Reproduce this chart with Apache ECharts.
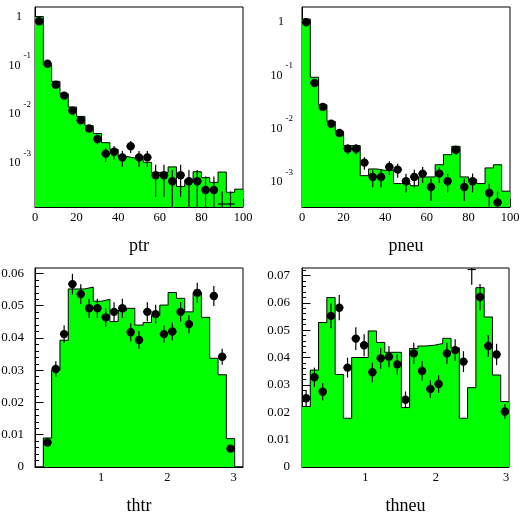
<!DOCTYPE html>
<html>
<head>
<meta charset="utf-8">
<script src="https://cdn.jsdelivr.net/npm/echarts@6/dist/echarts.min.js"></script>
<style>
html, body { margin: 0; padding: 0; background: #fff; }
#main { width: 519px; height: 512px; }
</style>
</head>
<body>
<div id="main"></div>
<script>
// ptr : 25 bins of 4 between 0 and 100
var ptrHist = [1.0, 0.103, 0.047, 0.026, 0.014, 0.009, 0.0058, 0.004, 0.0026, 0.0019,
    0.00136, 0.00126, 0.00121, 0.00103, 0.00064, 0.00064, 0.00083, 0.00033, 0.00045, 0.00066,
    0.0005, 0.0004, 0.00065, 0.00025, 0.00029];
var ptrData = [0.80, 0.108, 0.040, 0.024, 0.0118, 0.0075, 0.0051, 0.0031, 0.00155, 0.0017,
    0.0013, 0.0022, 0.0013, 0.0013, 0.00056, 0.00056, 0.00042, 0.00056, 0.00042, 0.00042,
    0.00028, 0.00028, 0.0001, 0.0001, null];
var ptrErr = [0.012, 0.004, 0.0025, 0.002, 0.0014, 0.0011, 0.0009, 0.0007, 0.0005, 0.00052,
    0.00046, 0.0006, 0.00046, 0.00046, 0.00036, 0.00036, 0.0003, 0.00036, 0.0003, 0.0003,
    0.00025, 0.00025, 0.00016, 0.00016, 0];

// pneu : 25 bins of 4 between 0 and 100
var pneuHist = [1.14, 0.092, 0.028, 0.0137, 0.0089, 0.0048, 0.0048, 0.00131, 0.00175, 0.00165,
    0.00165, 0.00093, 0.00093, 0.00085, 0.00124, 0.00124, 0.0021, 0.00325, 0.00466, 0.00124,
    0.0011, 0.00093, 0.00183, 0.0021, 0.00067];
var pneuData = [0.99, 0.072, 0.0255, 0.0124, 0.0083, 0.0042, 0.0042, 0.0023, 0.00124, 0.00124,
    0.0019, 0.0017, 0.00103, 0.00124, 0.00143, 0.0008, 0.00143, 0.00103, 0.0040, 0.0008,
    0.00103, null, 0.00062, 0.00041, null];
var pneuErr = [0.015, 0.004, 0.0022, 0.0015, 0.0012, 0.0009, 0.0009, 0.0006, 0.00045, 0.00045,
    0.00055, 0.0005, 0.0004, 0.00045, 0.00048, 0.00036, 0.00048, 0.0004, 0.0008, 0.00036,
    0.0004, 0, 0.0003, 0.00025, 0];

// thtr : 25 bins between 0 and pi
var thtrHist = [0, 0.009, 0.030, 0.0393, 0.0552, 0.0552, 0.0558, 0.0514, 0.052, 0.0451,
    0.0485, 0.0492, 0.044, 0.0448, 0.047, 0.0502, 0.0541, 0.0523, 0.0481, 0.0541,
    0.0464, 0.0337, 0.0286, 0.0088, 0];
var thtrData = [null, 0.0076, 0.0304, 0.0412, 0.0567, 0.0536, 0.0492, 0.0492, 0.0464, 0.0481,
    0.0492, 0.0418, 0.0394, 0.0481, 0.0474, 0.0412, 0.042, 0.0481, 0.0443, 0.054,
    null, 0.053, 0.0342, 0.0057, null];
var thtrErr = [0, 0.0012, 0.0024, 0.0027, 0.0032, 0.0031, 0.003, 0.003, 0.0029, 0.003,
    0.003, 0.0028, 0.0027, 0.003, 0.0029, 0.0027, 0.0028, 0.003, 0.0028, 0.0031,
    0, 0.0031, 0.0025, 0.001, 0];

// thneu : 25 bins between 0.1 and 3.04
var thneuHist = [0.0221, 0.0354, 0.0528, 0.0619, 0.0338, 0.0178, 0.040, 0.040, 0.0497, 0.0455,
    0.0419, 0.0419, 0.0217, 0.0433, 0.0442, 0.0445, 0.0451, 0.047, 0.0435, 0.0178,
    0.029, 0.0655, 0.0548, 0.0336, 0.0239];
var thneuData = [0.0251, 0.0328, 0.0275, 0.0552, 0.0582, 0.0363, 0.0469, 0.0445, 0.0346, 0.0397,
    0.0403, 0.0375, 0.0246, 0.0415, 0.0351, 0.0285, 0.0303, 0.0415, 0.0427, 0.0385,
    0.078, 0.0621, 0.0442, 0.0411, 0.0203];
var thneuErr = [0.003, 0.0035, 0.0032, 0.0045, 0.0046, 0.0036, 0.0042, 0.004, 0.0036, 0.0038,
    0.0039, 0.0037, 0.003, 0.0039, 0.0036, 0.0032, 0.0033, 0.0039, 0.004, 0.0038,
    0.0114, 0.0048, 0.004, 0.0039, 0.0027];

// tick labels
var pTicks = [0, 20, 40, 60, 80, 100];
var thTicks = [1, 2, 3];
var logTicks = [0.001, 0.01, 0.1, 1];
var thtrYTicks = [0, 0.01, 0.02, 0.03, 0.04, 0.05, 0.06];
var thneuYTicks = [0, 0.01, 0.02, 0.03, 0.04, 0.05, 0.06, 0.07];

var FONT = 'Liberation Serif';

function linMinor(from, to, step) {
    var out = [];
    for (var k = 0; from + k * step <= to + 1e-9; k++) out.push(+(from + k * step).toFixed(6));
    return out;
}
function logMinor() {
    var out = [];
    for (var d = -4; d <= 0; d++)
        for (var m = 2; m <= 9; m++) out.push(+(m * Math.pow(10, d)).toPrecision(3));
    return out;
}

function stepPoints(lo, w, hist) {
    var pts = hist.map(function (v, i) { return [lo + i * w, v]; });
    pts.push([lo + hist.length * w, hist[hist.length - 1]]);
    return pts;
}
function pointItems(lo, w, vals, errs) {
    var out = [];
    vals.forEach(function (v, i) {
        if (v != null) out.push([lo + (i + 0.5) * w, v, errs[i], w]);
    });
    return out;
}

function clamp(y, a, b) { return Math.max(a, Math.min(b, y)); }

// point + error bar, like ROOT "E" drawing
function renderPoint(params, api) {
    var cs = params.coordSys;
    var top = cs.y, bot = cs.y + cs.height;
    var x = api.value(0), v = api.value(1), e = api.value(2), w = api.value(3);
    var c = api.coord([x, v]);
    var xl = api.coord([x - w / 2, v])[0], xr = api.coord([x + w / 2, v])[0];
    var yHi = api.coord([x, v + e])[1];
    var yLo = v - e > 0 ? api.coord([x, v - e])[1] : bot;
    var yBar = clamp(c[1], top + 1.5, bot - 3);
    var st = { stroke: '#000', lineWidth: 1.2 };
    var kids = [
        { type: 'line', shape: { x1: c[0], y1: clamp(yHi, top, bot), x2: c[0], y2: clamp(yLo, top, bot) }, style: st },
        { type: 'line', shape: { x1: xl, y1: yBar, x2: xr, y2: yBar }, style: st }
    ];
    if (c[1] >= top && c[1] <= bot) {
        kids.push({ type: 'circle', shape: { cx: c[0], cy: c[1], r: 4.2 }, style: { fill: '#000' } });
    }
    return { type: 'group', children: kids };
}

function logLabel(v) {
    var k = Math.round(Math.log10(v));
    return k === 0 ? '{b|1}{sp|}' : '{b|10}{e|' + k + '}';
}

var option = {
    animation: false,
    grid: [], xAxis: [], yAxis: [], series: []
};

var panels = [
    { name: 'ptr', left: 35, top: 7, width: 208, height: 200, xMin: 0, xMax: 100, lo: 0, w: 4,
      xTicks: pTicks, xMinor: linMinor(0, 100, 4), log: true, yMin: 1.25e-4, yMax: 1.57,
      yTicks: logTicks, yMinor: logMinor(), yMargin: 4,
      hist: ptrHist, data: ptrData, err: ptrErr },
    { name: 'pneu', left: 302, top: 7, width: 208, height: 200, xMin: 0, xMax: 100, lo: 0, w: 4,
      xTicks: pTicks, xMinor: linMinor(0, 100, 4), log: true, yMin: 3.38e-4, yMax: 1.92,
      yTicks: logTicks, yMinor: logMinor(), yMargin: 9,
      hist: pneuHist, data: pneuData, err: pneuErr },
    { name: 'thtr', left: 35, top: 268, width: 208, height: 199, xMin: 0, xMax: Math.PI, lo: 0, w: Math.PI / 25,
      xTicks: thTicks, xMinor: linMinor(0.2, 3.1, 0.2), log: false, yMin: 0, yMax: 0.0617,
      yTicks: thtrYTicks, yMinor: linMinor(0, 0.061, 0.002), yMargin: 11,
      hist: thtrHist, data: thtrData, err: thtrErr },
    { name: 'thneu', left: 302, top: 268, width: 207, height: 199, xMin: 0.1, xMax: 3.04, lo: 0.1, w: 2.94 / 25,
      xTicks: thTicks, xMinor: linMinor(0.2, 3.0, 0.2), log: false, yMin: 0, yMax: 0.0727,
      yTicks: thneuYTicks, yMinor: linMinor(0, 0.072, 0.002), yMargin: 12,
      hist: thneuHist, data: thneuData, err: thneuErr }
];

panels.forEach(function (p, i) {
    option.grid.push({ left: p.left, top: p.top, width: p.width, height: p.height,
        outerBoundsMode: 'none',
        show: true, borderColor: '#000', borderWidth: 1, backgroundColor: '#fff' });

    var xMajor = {
        type: 'value', gridIndex: i, position: 'bottom', min: p.xMin, max: p.xMax,
        axisLine: { show: true, onZero: false, lineStyle: { color: '#000', width: 1 } },
        axisTick: { show: true, inside: true, length: 8, customValues: p.xTicks, lineStyle: { color: '#000' } },
        axisLabel: { customValues: p.xTicks, fontFamily: FONT, fontSize: 12.5, color: '#000', margin: 4,
            showMinLabel: true, showMaxLabel: true },
        splitLine: { show: false },
        name: p.name, nameLocation: 'middle', nameGap: 30,
        nameTextStyle: { fontFamily: FONT, fontSize: 18, color: '#000' }
    };
    var xMinorAx = {
        type: 'value', gridIndex: i, position: 'bottom', min: p.xMin, max: p.xMax,
        axisLine: { show: false },
        axisTick: { show: true, inside: true, length: 4, customValues: p.xMinor, lineStyle: { color: '#000' } },
        axisLabel: { show: false }, splitLine: { show: false }
    };
    var yMajor = {
        type: p.log ? 'log' : 'value', gridIndex: i, position: 'left', min: p.yMin, max: p.yMax,
        axisLine: { show: true, onZero: false, lineStyle: { color: '#000', width: 1 } },
        axisTick: { show: true, inside: true, length: p.log ? 6 : 8.5, customValues: p.yTicks, lineStyle: { color: '#000' } },
        axisLabel: { customValues: p.yTicks, fontFamily: FONT, fontSize: 13, color: '#000', margin: p.yMargin },
        splitLine: { show: false }
    };
    if (p.log) {
        yMajor.logBase = 10;
        yMajor.axisLabel.formatter = logLabel;
        yMajor.axisLabel.rich = {
            b: { fontFamily: FONT, fontSize: 12, lineHeight: 28, color: '#000' },
            e: { fontFamily: FONT, fontSize: 9, lineHeight: 9, verticalAlign: 'top', color: '#000', padding: [0, 0, 0, 3] },
            sp: { width: 9 }
        };
    }
    var yMinorAx = {
        type: p.log ? 'log' : 'value', gridIndex: i, position: 'left', min: p.yMin, max: p.yMax,
        axisLine: { show: false },
        axisTick: { show: true, inside: true, length: p.log ? 3.5 : 4, customValues: p.yMinor, lineStyle: { color: '#000' } },
        axisLabel: { show: false }, splitLine: { show: false }
    };
    if (p.log) yMinorAx.logBase = 10;

    option.xAxis.push(xMajor, xMinorAx);
    option.yAxis.push(yMajor, yMinorAx);

    option.series.push({
        type: 'line', xAxisIndex: 2 * i, yAxisIndex: 2 * i,
        data: stepPoints(p.lo, p.w, p.hist), step: 'end', symbol: 'none',
        lineStyle: { color: '#000', width: 1 },
        areaStyle: { color: '#00ff00', opacity: 1, origin: 'start' },
        silent: true, z: 2
    });
    option.series.push({
        type: 'custom', xAxisIndex: 2 * i, yAxisIndex: 2 * i,
        data: pointItems(p.lo, p.w, p.data, p.err),
        renderItem: renderPoint, clip: true, silent: true, z: 3
    });
});

var myChart = echarts.init(document.getElementById('main'));
myChart.setOption(option);
window.addEventListener('resize', function () {
    myChart.resize();
});
</script>
</body>
</html>
